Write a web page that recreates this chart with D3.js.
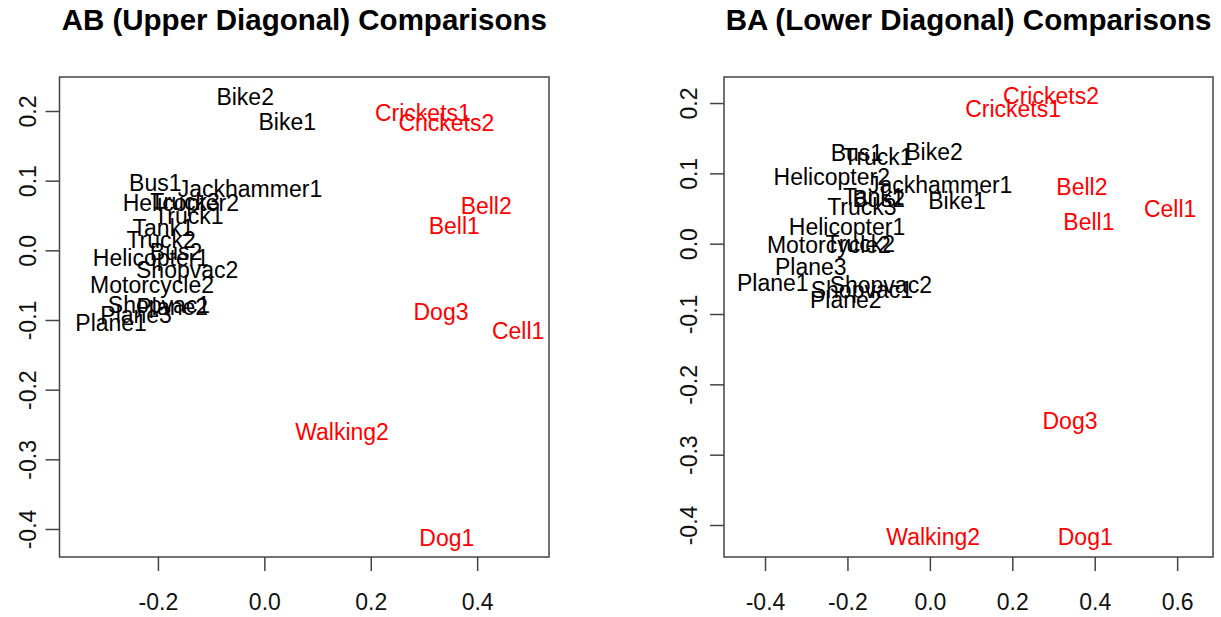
<!DOCTYPE html>
<html>
<head>
<meta charset="utf-8">
<script src="https://cdn.jsdelivr.net/npm/d3@7"></script>
<style>
  html, body { margin: 0; padding: 0; background: #fff; }
  svg text { font-family: "Liberation Sans", Arial, Helvetica, sans-serif; }
</style>
</head>
<body>
<svg id="chart" width="1221" height="617"></svg>
<script>
// Sound stimuli and their class
const sounds = [
  "Bike1", "Bike2", "Bus1", "Bus2", "Jackhammer1", "Helicopter1", "Helicopter2",
  "Truck1", "Truck2", "Truck3", "Tank1", "Motorcycle2", "Shopvac1", "Shopvac2",
  "Plane1", "Plane2", "Plane3",
  "Crickets1", "Crickets2", "Bell1", "Bell2", "Dog1", "Dog3", "Cell1", "Walking2"
];
const soundClass = [
  "machine", "machine", "machine", "machine", "machine", "machine", "machine",
  "machine", "machine", "machine", "machine", "machine", "machine", "machine",
  "machine", "machine", "machine",
  "other", "other", "other", "other", "other", "other", "other", "other"
];

// AB (upper diagonal) coordinates
const abX = [0.043, -0.036, -0.205, -0.166, -0.027, -0.213, -0.157,
  -0.142, -0.194, -0.149, -0.190, -0.211, -0.198, -0.145,
  -0.288, -0.173, -0.241,
  0.298, 0.342, 0.357, 0.417, 0.343, 0.332, 0.477, 0.146];
const abY = [0.184, 0.220, 0.097, -0.002, 0.088, -0.011, 0.068,
  0.049, 0.015, 0.069, 0.032, -0.050, -0.079, -0.028,
  -0.104, -0.081, -0.093,
  0.197, 0.183, 0.035, 0.063, -0.413, -0.089, -0.116, -0.261];

// BA (lower diagonal) coordinates
const baX = [0.066, 0.010, -0.177, -0.124, 0.025, -0.201, -0.238,
  -0.126, -0.169, -0.165, -0.136, -0.245, -0.165, -0.119,
  -0.381, -0.204, -0.289,
  0.202, 0.294, 0.386, 0.369, 0.377, 0.340, 0.583, 0.008];
const baY = [0.061, 0.130, 0.129, 0.064, 0.083, 0.024, 0.095,
  0.123, 0.000, 0.052, 0.066, -0.002, -0.066, -0.059,
  -0.056, -0.080, -0.033,
  0.192, 0.210, 0.031, 0.081, -0.417, -0.252, 0.049, -0.417];

// Axis ticks
const abXTicks = [-0.2, 0.0, 0.2, 0.4];
const abYTicks = [-0.4, -0.3, -0.2, -0.1, 0.0, 0.1, 0.2];
const baXTicks = [-0.4, -0.2, 0.0, 0.2, 0.4, 0.6];
const baYTicks = [-0.4, -0.3, -0.2, -0.1, 0.0, 0.1, 0.2];

const classColor = { machine: "#000000", other: "#ff0000" };
const fmt = v => (Math.abs(v) < 1e-9 ? 0 : v).toFixed(1);

const svg = d3.select("#chart");

function panel(cfg) {
  const x = d3.scaleLinear().domain(cfg.xDomain).range([cfg.left, cfg.right]);
  const y = d3.scaleLinear().domain(cfg.yDomain).range([cfg.bottom, cfg.top]);
  const g = svg.append("g");

  // title
  g.append("text")
    .attr("x", (cfg.left + cfg.right) / 2)
    .attr("y", 30)
    .attr("text-anchor", "middle")
    .attr("font-size", 29.5)
    .attr("font-weight", "bold")
    .attr("fill", "#000")
    .text(cfg.title);

  // x axis
  const xa = g.append("g")
    .attr("transform", `translate(0,${cfg.bottom})`)
    .call(d3.axisBottom(x).tickValues(cfg.xTicks).tickFormat(fmt).tickSize(14).tickPadding(23));
  xa.select(".domain").remove();
  xa.selectAll("line").attr("stroke", "#444").attr("stroke-width", 1.5);
  xa.selectAll("text").attr("font-size", 23).attr("fill", "#111")
    .attr("font-family", "Liberation Sans, Arial, sans-serif");

  // y axis, labels rotated parallel to the axis
  const ya = g.append("g")
    .attr("transform", `translate(${cfg.left},0)`)
    .call(d3.axisLeft(y).tickValues(cfg.yTicks).tickFormat(fmt).tickSize(14));
  ya.select(".domain").remove();
  ya.selectAll("line").attr("stroke", "#444").attr("stroke-width", 1.5);
  ya.selectAll("text")
    .attr("font-size", 23).attr("fill", "#111")
    .attr("font-family", "Liberation Sans, Arial, sans-serif")
    .attr("x", null).attr("dy", null)
    .attr("text-anchor", "middle")
    .attr("dominant-baseline", "central")
    .attr("transform", `translate(${-cfg.yLabelOffset},0) rotate(-90)`);

  // plot frame
  g.append("rect")
    .attr("x", cfg.left).attr("y", cfg.top)
    .attr("width", cfg.right - cfg.left).attr("height", cfg.bottom - cfg.top)
    .attr("fill", "none").attr("stroke", "#444").attr("stroke-width", 1.5);

  // point labels
  g.append("g").selectAll("text")
    .data(sounds.map((s, i) => ({ name: s, cls: soundClass[i], vx: cfg.xs[i], vy: cfg.ys[i] })))
    .join("text")
    .attr("x", d => x(d.vx))
    .attr("y", d => y(d.vy))
    .attr("text-anchor", "middle")
    .attr("dominant-baseline", "central")
    .attr("font-size", 23)
    .attr("fill", d => classColor[d.cls])
    .text(d => d.name);
}

panel({
  title: "AB (Upper Diagonal) Comparisons",
  left: 59.5, right: 549, top: 77, bottom: 557,
  xDomain: [-0.385, 0.535], yDomain: [-0.4402, 0.2488],
  xTicks: abXTicks, yTicks: abYTicks, yLabelOffset: 32,
  xs: abX, ys: abY
});

panel({
  title: "BA (Lower Diagonal) Comparisons",
  left: 724, right: 1213, top: 77, bottom: 557,
  xDomain: [-0.4995, 0.687], yDomain: [-0.4455, 0.237],
  xTicks: baXTicks, yTicks: baYTicks, yLabelOffset: 35,
  xs: baX, ys: baY
});
</script>
</body>
</html>
